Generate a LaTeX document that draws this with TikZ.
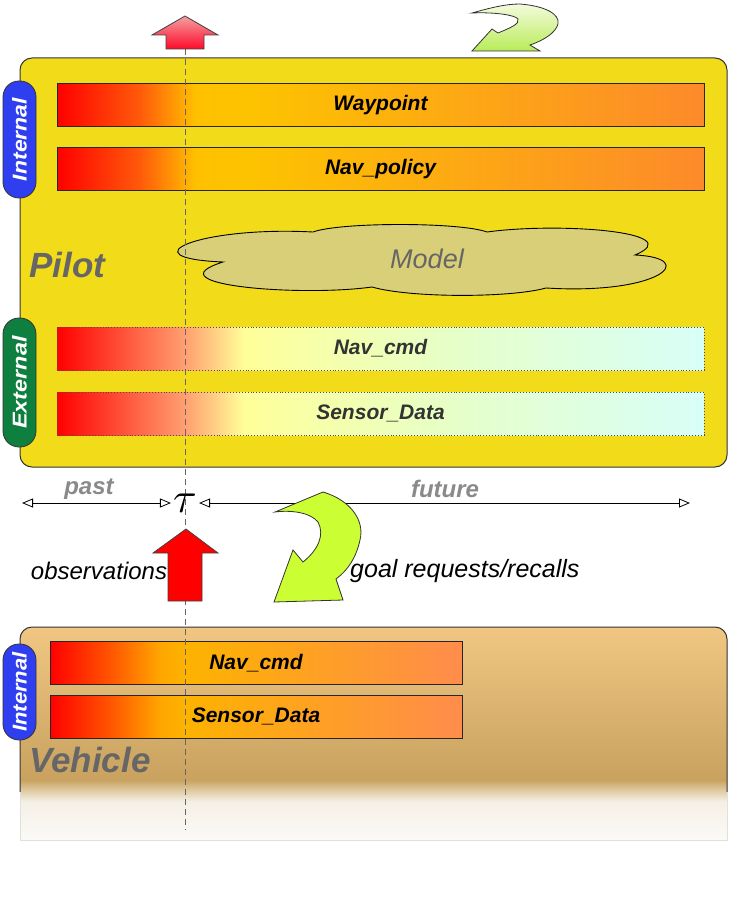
\documentclass[tikz,border=0pt]{standalone}
\usepackage{fontspec}
\setmainfont{Liberation Sans}
\usetikzlibrary{arrows.meta}

\definecolor{pilotY}{HTML}{F2DC1A}
\definecolor{cloudK}{HTML}{D9CF78}
\definecolor{pillB}{HTML}{2F3FF0}
\definecolor{pillG}{HTML}{0E7F3F}
\definecolor{labG}{HTML}{666666}
\definecolor{pfG}{HTML}{8A8A8A}
\definecolor{arrG}{HTML}{CCFF33}
\definecolor{barR}{HTML}{FF0000}
\definecolor{barRO}{HTML}{FF5A0A}
\definecolor{barY}{HTML}{FFC000}
\definecolor{barY2}{HTML}{FDC300}
\definecolor{barO}{HTML}{FD8A2A}
\definecolor{exO}{HTML}{FFA070}
\definecolor{exY}{HTML}{FFFF99}
\definecolor{exG}{HTML}{E6FFC8}
\definecolor{exC}{HTML}{D8FFF8}
\definecolor{vbRO}{HTML}{FF5500}
\definecolor{vbO}{HTML}{FFA500}
\definecolor{vbY}{HTML}{FDB300}
\definecolor{vbE}{HTML}{FF8C4C}
\definecolor{vT}{HTML}{F0C682}
\definecolor{vD}{HTML}{C9A25F}
\definecolor{vF}{HTML}{E0CDA8}
\definecolor{vW2}{HTML}{F5F0E6}
\definecolor{vW}{HTML}{FBFAF7}
\definecolor{redTop}{HTML}{F3A0A0}
\definecolor{redBot}{HTML}{FF0A2A}
\definecolor{grTop}{HTML}{F4FBDD}
\definecolor{grBot}{HTML}{B8EC58}

\pgfdeclarehorizontalshading{intshade}{100bp}{color(0bp)=(barR); color(25bp)=(barR); color(31.4bp)=(barRO); color(35.7bp)=(barY); color(39.9bp)=(barY2); color(75bp)=(barO); color(100bp)=(barO)}
\pgfdeclarehorizontalshading{extshade}{100bp}{color(0bp)=(barR); color(25bp)=(barR); color(34.9bp)=(exO); color(39.5bp)=(exY); color(55.4bp)=(exG); color(75bp)=(exC); color(100bp)=(exC)}
\pgfdeclarehorizontalshading{vbshade}{100bp}{color(0bp)=(barR); color(25bp)=(barR); color(32.3bp)=(vbRO); color(38.3bp)=(vbO); color(41.4bp)=(vbY); color(75bp)=(vbE); color(100bp)=(vbE)}
\pgfdeclareverticalshading{vehshade}{100bp}{color(0bp)=(vW); color(25bp)=(vW); color(34bp)=(vW2); color(36.5bp)=(vF); color(39.1bp)=(vD); color(75bp)=(vT); color(100bp)=(vT)}

\tikzset{
  bartxt/.style={font=\fontsize{21}{24}\selectfont\bfseries\itshape},
  intbar/.style={draw=black!85, line width=0.9pt, shading=intshade, minimum width=647pt, minimum height=43pt, inner sep=0pt, bartxt, text=black},
  extbar/.style={draw=black!70, dotted, line width=0.9pt, shading=extshade, minimum width=647pt, minimum height=43pt, inner sep=0pt, bartxt, text=black!80},
  vbar/.style={draw=black!85, line width=0.9pt, shading=vbshade, minimum width=412pt, minimum height=43pt, inner sep=0pt, bartxt, text=black},
  pill/.style={draw=black!80, line width=0.8pt, rounded corners=16pt, minimum height=33pt, inner sep=0pt, rotate=90, text=white, font=\fontsize{20}{20}\selectfont\bfseries\itshape},
  bigname/.style={text=labG, font=\fontsize{35}{38}\selectfont\bfseries\itshape, inner sep=0pt},
  pftxt/.style={text=pfG, font=\fontsize{24}{26}\selectfont\bfseries\itshape, inner sep=0pt},
  lbltxt/.style={text=black, font=\fontsize{24}{26}\selectfont\itshape, inner sep=0pt},
  axarr/.style={line width=0.8pt, {Triangle[open,length=11pt,width=9pt]}-{Triangle[open,length=11pt,width=9pt]}},
  redarr/.style={draw=black!75, line width=0.8pt},
  grarr/.style={draw=black!80, line width=0.8pt},
  tline/.style={draw=black!60, line width=0.8pt, dash pattern=on 6pt off 4pt}
}

\begin{document}
\begin{tikzpicture}[x=1pt,y=-1pt]
\useasboundingbox (0,0) rectangle (734,901);

% Pilot container
\draw[fill=pilotY, draw=black!80, line width=1pt, rounded corners=12pt] (20,58) rectangle (727,467);

% Vehicle container
\path[shading=vehshade] (20,840) -- (20,639) arc[start angle=180,end angle=270,radius=12] -- (715,627) arc[start angle=270,end angle=360,radius=12] -- (727,840) -- cycle;
\draw[black!80, line width=1pt] (20,792) -- (20,639) arc[start angle=180,end angle=270,radius=12] -- (715,627) arc[start angle=270,end angle=360,radius=12] -- (727,792);
\draw[black!12, line width=0.8pt] (20,792) -- (20,840) -- (727,840) -- (727,792);

% Pilot bars
\node[intbar] (wp) at (380.5,105) {Waypoint};
\node[intbar] (np) at (380.5,169) {Nav\_policy};
\node[extbar] (nc) at (380.5,348.5) {Nav\_cmd};
\node[extbar] (sd) at (380.5,413.5) {Sensor\_Data};

% Model cloud
\draw[fill=cloudK, draw=black, line width=0.9pt]
  (223,262) .. controls (125,258) and (200,226) .. (313,232)
  .. controls (340,222) and (460,222) .. (487,232)
  .. controls (560,222) and (690,232) .. (635,255)
  .. controls (700,258) and (660,295) .. (546,288)
  .. controls (510,298) and (410,298) .. (372,287)
  .. controls (300,297) and (150,285) .. cycle;
\node[text=labG, font=\fontsize{27}{28}\selectfont\itshape] (model) at (427,259) {Model};

% Pills
\node[pill, fill=pillB, minimum width=117pt] (pint) at (19.5,139.5) {\scalebox{1.15}[1]{Internal}};
\node[pill, fill=pillG, minimum width=129pt] (pext) at (19.5,382.5) {\scalebox{1.17}[1]{External}};

% Names
\node[bigname, anchor=west] (pilot) at (29,265) {Pilot};

% Vehicle bars
\node[vbar] (vnc) at (256,663) {Nav\_cmd};
\node[vbar] (vsd) at (256,716.5) {Sensor\_Data};
\node[pill, fill=pillB, minimum width=96pt] (vint) at (19.5,692) {\scalebox{1.1}[1]{Internal}};
\node[bigname, anchor=west] (vehicle) at (29,760) {Vehicle};

% time line
\coordinate (dtop) at (185,49);
\coordinate (dbot) at (185,830);
\draw[tline] (dtop) -- (dbot);

% top arrows
\draw[redarr, top color=redTop, bottom color=redBot] (166,49) -- (166,35) -- (152,35) -- (185,16) -- (218,35) -- (204,35) -- (204,49) -- cycle;
\draw[grarr, top color=grTop, bottom color=grBot]
  (472,13) .. controls (490,8) and (505,4) .. (520,4)
  .. controls (545,6) and (560,14) .. (558,24)
  .. controls (556,32) and (545,40) .. (530,45)
  -- (540,51) -- (472,51) -- (492,29) -- (498,33)
  .. controls (510,28) and (520,24) .. (518,19)
  .. controls (515,15) and (495,12) .. cycle;

% axis
\node[inner sep=2pt] (tau) at (185,503) {\scalebox{4.3}{$\tau$}};
\coordinate (pastL) at (22,503);
\coordinate (futR) at (690,503);
\draw[axarr] (pastL) -- (tau.west |- pastL);
\draw[axarr] (tau.east |- futR) -- (futR);
\node[pftxt] (past) at (89,489) {past};
\node[pftxt] (future) at (445,489) {future};

% middle arrows
\draw[redarr, fill=red] (168,601) -- (168,553) -- (153,553) -- (186,529) -- (218,553) -- (202,553) -- (202,601) -- cycle;
\draw[grarr, fill=arrG]
  (275,512) -- (323,492)
  .. controls (350,500) and (365,520) .. (360,540)
  .. controls (356,558) and (348,570) .. (336,579)
  -- (343,600) -- (274,602) -- (293,550) -- (303,562)
  .. controls (318,550) and (325,535) .. (318,522)
  .. controls (310,512) and (290,510) .. cycle;

\node[lbltxt] (obs) at (99,571) {observations};
\node[lbltxt, anchor=west, font=\fontsize{25}{27}\selectfont\itshape] (goal) at (350,571) {goal requests/recalls};
\end{tikzpicture}
\end{document}
